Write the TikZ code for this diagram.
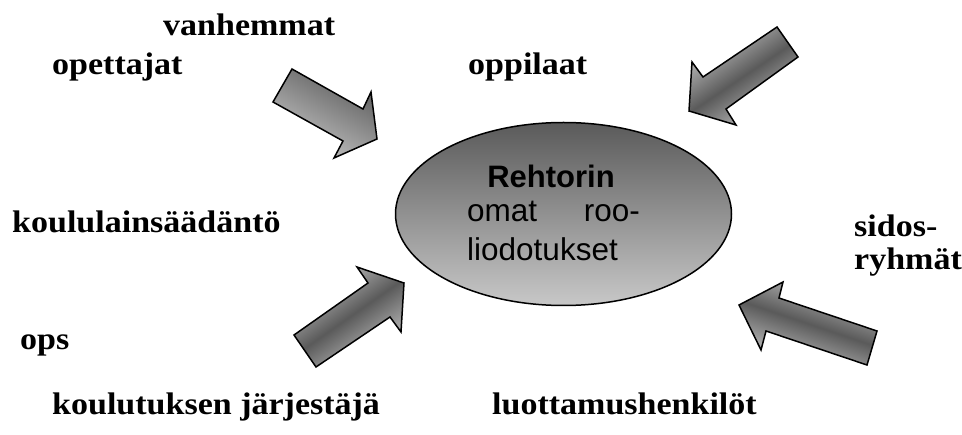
\documentclass[tikz,border=0pt]{standalone}
\usepackage{fontspec}
\setmainfont{Liberation Serif}
\newfontfamily\lblfont[FakeStretch=1.09]{Liberation Serif}
\newfontfamily\ovalfont{Liberation Sans}
\usetikzlibrary{shapes.geometric}
\definecolor{shadedark}{HTML}{5A5A5A}
\definecolor{shadelight}{HTML}{C8C8C8}
\begin{document}
\begin{tikzpicture}[x=1pt,y=-1pt,
  lbl/.style={anchor=base west, inner sep=0pt, font=\lblfont\bfseries\fontsize{31.2}{36}\selectfont},
  ovaltxt/.style={anchor=base west, inner sep=0pt, font=\ovalfont\fontsize{31.5}{36}\selectfont},
  blockarrow/.style={draw=black, line width=1.5pt, line join=miter},
  onetone/.style={blockarrow, top color=shadedark, bottom color=shadelight},
  banded/.style={blockarrow, top color=shadelight, bottom color=shadelight, middle color=shadedark}]
\useasboundingbox (0,0) rectangle (962,435);

% central oval
\node (core) [ellipse, draw=black, line width=1.5pt, inner sep=0pt,
  minimum width=336pt, minimum height=183pt,
  top color=shadedark, bottom color=shadelight] at (563.5,214) {};
\node (core1) [ovaltxt, anchor=base, font=\ovalfont\bfseries\fontsize{31}{36}\selectfont] at (551,187.5) {Rehtorin};
\node (core2a) [ovaltxt] at (467,222) {omat};
\node (core2b) [ovaltxt, anchor=base east] at (640,222) {roo-};
\node (core3) [ovaltxt] at (467,261) {liodotukset};

% block arrows pointing at the oval
\path[onetone, shading angle=-29.4]
  (292,69) -- (363,109) -- (371,92) -- (377,139) -- (334,158) -- (343,141) -- (273,102) -- cycle;
\path[banded, shading angle=34]
  (777,27) -- (703,77) -- (692,62) -- (689,111) -- (736,125) -- (726,109) -- (798,57) -- cycle;
\path[banded, shading angle=35]
  (294,335) -- (368,283) -- (357,267) -- (404,283) -- (401,332) -- (390,317) -- (316,367) -- cycle;
\path[banded, shading angle=-18.6]
  (877,331) -- (779,298) -- (783,282) -- (739,305) -- (761,350) -- (766,331) -- (867,365) -- cycle;

% surrounding labels
\node (vanh) [lbl] at (163,36) {vanhemmat};
\node (opet) [lbl] at (52,75) {opettajat};
\node (oppi) [lbl] at (468,75) {oppilaat};
\node (lain) [lbl] at (12,233) {koululainsäädäntö};
\node (sid1) [lbl] at (854,237) {sidos-};
\node (sid2) [lbl] at (854,270) {ryhmät};
\node (ops)  [lbl] at (20,350) {ops};
\node (jarj) [lbl] at (52,415) {koulutuksen järjestäjä};
\node (luot) [lbl] at (492,415) {luottamushenkilöt};
\end{tikzpicture}
\end{document}
